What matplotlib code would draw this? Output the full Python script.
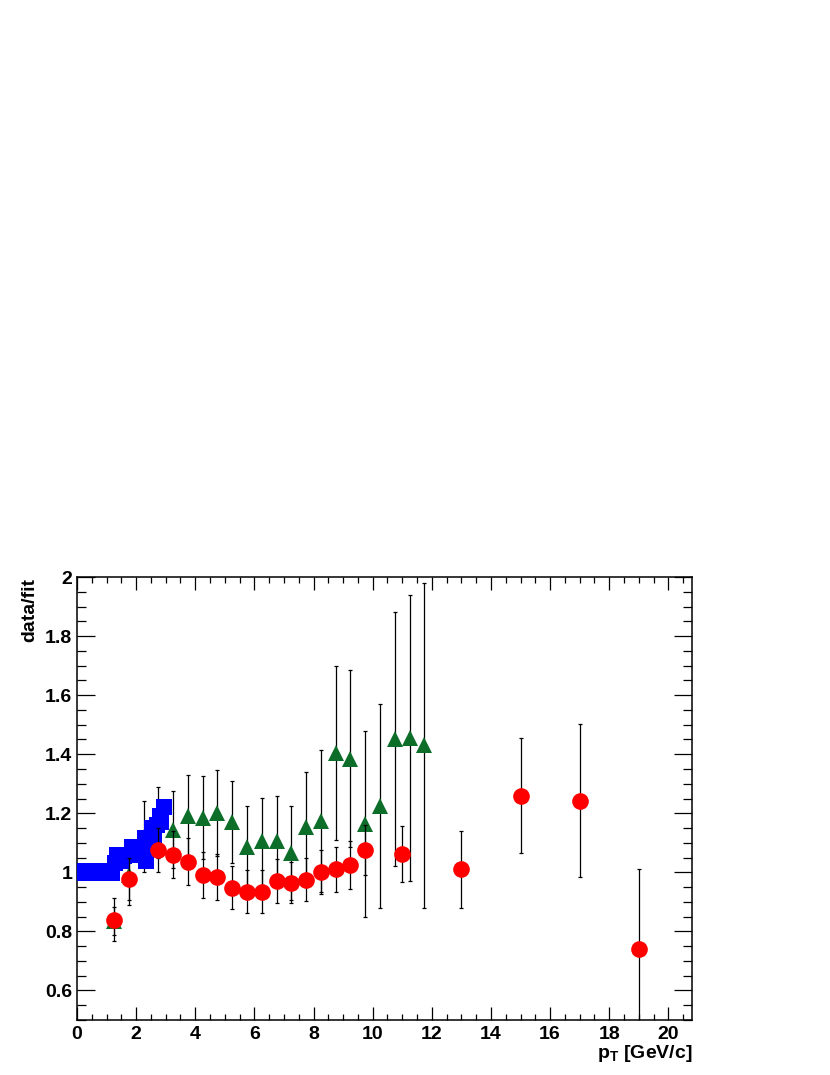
import numpy as np
import matplotlib
matplotlib.use("Agg")
import matplotlib.pyplot as plt
from matplotlib.ticker import MultipleLocator, FuncFormatter

plt.rcParams['font.family'] = ['Liberation Sans', 'DejaVu Sans']
plt.rcParams['font.weight'] = 'bold'
plt.rcParams['mathtext.fontset'] = 'custom'
plt.rcParams['mathtext.rm'] = 'Liberation Sans:bold'
plt.rcParams['mathtext.it'] = 'Liberation Sans:bold'
plt.rcParams['mathtext.bf'] = 'Liberation Sans:bold'

# blue squares (low pT)
blue_x = [0.1, 0.2, 0.3, 0.4, 0.5, 0.6, 0.7, 0.8, 0.9, 1.0, 1.1, 1.2, 1.3, 1.35, 1.5,
          1.6, 1.75, 1.85, 1.95, 2.05, 2.15, 2.3, 2.35, 2.45, 2.55, 2.6, 2.7, 2.8,
          2.85, 2.93]
blue_y = [1.003, 0.998, 1.006, 0.998, 1.004, 0.997, 1.005, 0.998, 1.0, 0.998, 1.005,
          0.997, 1.03, 1.059, 1.04, 1.055, 1.06, 1.085, 1.06, 1.08, 1.06, 1.115, 1.04,
          1.09, 1.149, 1.12, 1.16, 1.19, 1.17, 1.22]

# green triangles
green_x = [1.25, 1.75, 2.25, 2.75, 3.25, 3.75, 4.25, 4.75, 5.25, 5.75, 6.25, 6.75,
           7.25, 7.75, 8.25, 8.75, 9.25, 9.75, 10.25, 10.75, 11.25, 11.75]
green_y = [0.835, 0.99, 1.12, 1.17, 1.145, 1.19, 1.185, 1.2, 1.17, 1.085, 1.105, 1.105,
           1.065, 1.155, 1.175, 1.405, 1.385, 1.165, 1.225, 1.45, 1.455, 1.43]
green_err = [0.048, 0.1, 0.12, 0.12, 0.13, 0.14, 0.14, 0.145, 0.14, 0.14, 0.148, 0.155,
             0.16, 0.185, 0.24, 0.295, 0.3, 0.315, 0.345, 0.43, 0.485, 0.55]

# red circles
red_x = [1.25, 1.75, 2.75, 3.25, 3.75, 4.25, 4.75, 5.25, 5.75, 6.25, 6.75, 7.25,
         7.75, 8.25, 8.75, 9.25, 9.75, 11, 13, 15, 17, 19]
red_y = [0.84, 0.978, 1.075, 1.06, 1.036, 0.99, 0.985, 0.948, 0.935, 0.935, 0.97,
         0.965, 0.975, 1.0, 1.01, 1.025, 1.076, 1.062, 1.01, 1.26, 1.243, 0.74]
red_err = [0.073, 0.07, 0.075, 0.08, 0.08, 0.078, 0.078, 0.073, 0.072, 0.072, 0.074,
           0.07, 0.073, 0.075, 0.076, 0.08, 0.085, 0.095, 0.13, 0.195, 0.26, 0.27]

fig = plt.figure(figsize=(8.3, 10.75), dpi=100)
ax = fig.add_axes([77/830, 1 - 1020/1075, (692 - 77)/830, (1020 - 577)/1075])

ms = 12.0
ax.errorbar(green_x, green_y, yerr=green_err, fmt='none', ecolor='black',
            elinewidth=0.9, capsize=1.6, capthick=0.9, zorder=1.5)
ax.plot(green_x, green_y, ls='none', marker='^', ms=ms, color='#0d6e2a', mew=0, zorder=2)
ax.plot(blue_x, blue_y, ls='none', marker='s', ms=12, color='#0000ff', mew=0, zorder=3)
ax.errorbar(red_x, red_y, yerr=red_err, fmt='none', ecolor='black',
            elinewidth=0.9, capsize=1.6, capthick=0.9, zorder=4)
ax.plot(red_x, red_y, ls='none', marker='o', ms=ms, color='#ff0000', mew=0, zorder=5)

ax.set_xlim(0, 20.8)
ax.set_ylim(0.5, 2.0)
ax.xaxis.set_major_locator(MultipleLocator(2))
ax.xaxis.set_minor_locator(MultipleLocator(0.5))
ax.yaxis.set_major_locator(MultipleLocator(0.2))
ax.yaxis.set_minor_locator(MultipleLocator(0.05))
ax.yaxis.set_major_formatter(FuncFormatter(lambda v, p: '%g' % round(v, 3)))
ax.xaxis.set_major_formatter(FuncFormatter(lambda v, p: '%g' % round(v, 3)))

ax.tick_params(axis='x', which='major', direction='in', length=9.4, width=0.9,
               top=True, bottom=True, labelsize=14, pad=4)
ax.tick_params(axis='x', which='minor', direction='in', length=4.4, width=0.9,
               top=True, bottom=True)
ax.tick_params(axis='y', which='major', direction='in', length=13, width=0.9,
               left=True, right=True, labelsize=14, pad=3.5)
ax.tick_params(axis='y', which='minor', direction='in', length=6.5, width=0.9,
               left=True, right=True)
for s in ax.spines.values():
    s.set_linewidth(1.1)

fig.text(30/830, 1 - 578/1075, 'data/fit', rotation=90, ha='center', va='top',
         fontsize=14, fontweight='bold')
fig.text(692/830, 1 - 1058/1075, r'$\mathrm{p_{T}}$ [GeV/c]', ha='right', va='baseline',
         fontsize=14, fontweight='bold')

fig.savefig('out.png', dpi=100)
